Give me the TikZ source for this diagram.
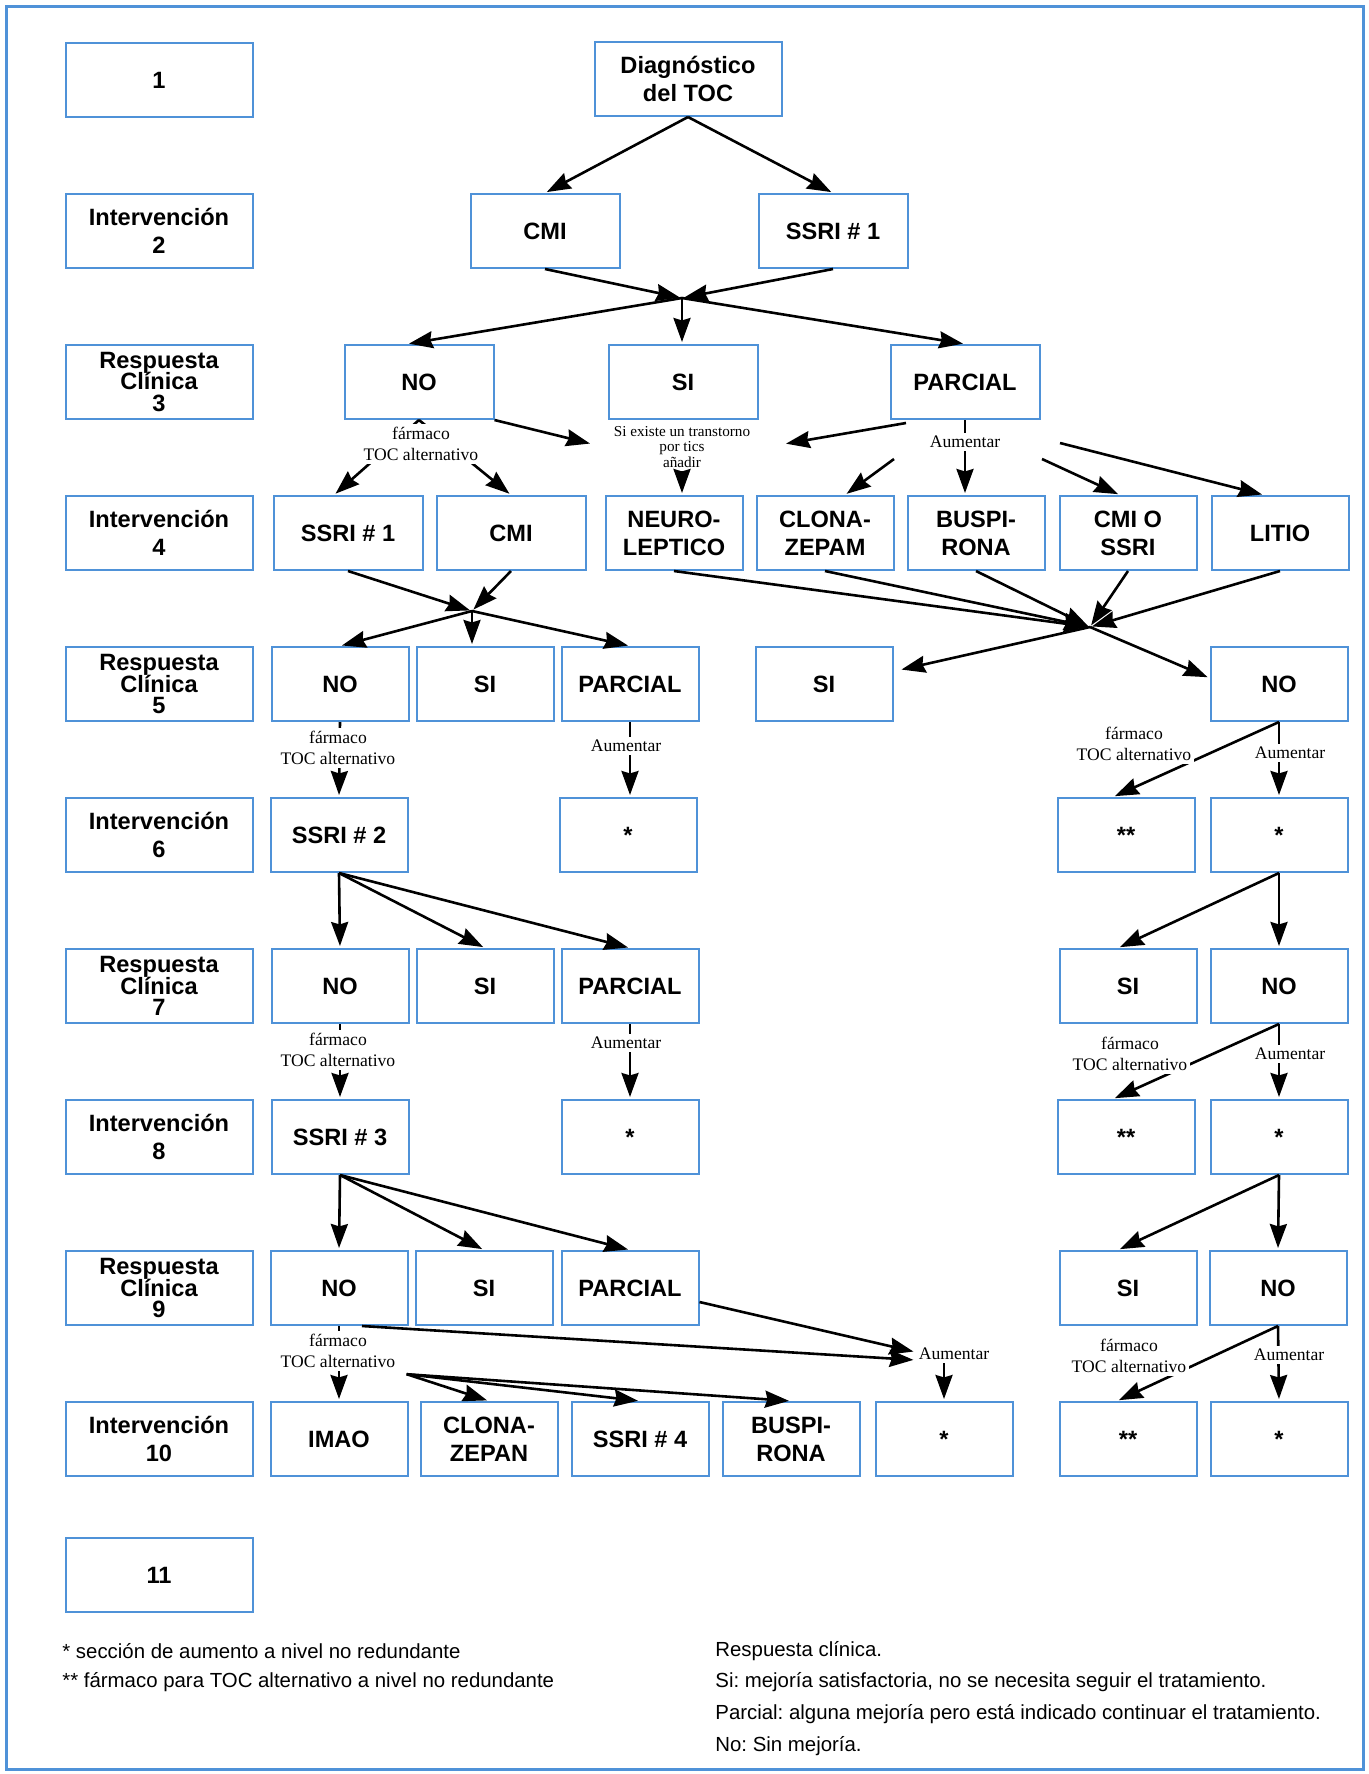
\documentclass[tikz,border=0pt]{standalone}
\usepackage{fontspec}
\setmainfont{Liberation Serif}
\setsansfont{Liberation Sans}
\usepackage{tikz}
\usetikzlibrary{arrows.meta,calc}
\definecolor{boxblue}{RGB}{79,146,216}
\newcommand{\respclin}[1]{Respuesta\\[-3.3pt]Clínica\\[-3.3pt]#1}
\frenchspacing

\begin{document}
\begin{tikzpicture}[x=0.5pt,y=-0.5pt,
    box/.style={draw=boxblue,line width=1pt,fill=white,minimum width=68.5pt,minimum height=37pt,
                inner sep=1pt,align=center,font=\sffamily\bfseries\fontsize{11.8}{14}\selectfont},
    wide/.style={box,minimum width=74.5pt},
    side/.style={box,minimum width=93.5pt},
    lbl/.style={fill=white,inner sep=1.5pt,align=center,font=\fontsize{8.8}{10.5}\selectfont},
    arr/.style={line width=1.3pt,shorten >=1pt,-{Stealth[length=12pt,width=8.5pt,inset=1.2pt]}},
    legend/.style={anchor=west,inner sep=0pt,font=\sffamily\fontsize{10.2}{12}\selectfont}]

    \useasboundingbox (0,0) rectangle (1369,1774);
    \draw[boxblue,line width=1.5pt] (6,6) rectangle (1363,1769);

    % left column
    \foreach \r/\y/\t in {1/80/1, 2/231/Intervención\\2, 3/382/\respclin{3}, 4/533/Intervención\\4,
                          5/684/\respclin{5}, 6/835/Intervención\\6, 7/986/\respclin{7},
                          8/1137/Intervención\\8, 9/1288/\respclin{9}, 10/1439/Intervención\\10, 11/1575/11}
        \node[side] (lab\r) at (159,\y) {\t};

    \node[side] (diag)  at (688,79)  {Diagnóstico\\del TOC};
    \node[wide] (cmi2)  at (545,231) {CMI};
    \node[wide] (ssri2) at (833,231) {SSRI \# 1};

    \node[wide] (no3)  at (419,382) {NO};
    \node[wide] (si3)  at (683,382) {SI};
    \node[wide] (par3) at (965,382) {PARCIAL};

    \node[wide] (ssri4)  at (348,533)  {SSRI \# 1};
    \node[wide] (cmi4)   at (511,533)  {CMI};
    \node[box]  (neuro4) at (674,533)  {NEURO-\\LEPTICO};
    \node[box]  (clona4) at (825,533)  {CLONA-\\ZEPAM};
    \node[box]  (buspi4) at (976,533)  {BUSPI-\\RONA};
    \node[box]  (cmio4)  at (1128,533) {CMI O\\SSRI};
    \node[box]  (litio4) at (1280,533) {LITIO};

    \node[box] (no5)  at (340,684)  {NO};
    \node[box] (si5)  at (485,684)  {SI};
    \node[box] (par5) at (630,684)  {PARCIAL};
    \node[box] (sib5) at (824,684)  {SI};
    \node[box] (nob5) at (1279,684) {NO};

    \node[box] (ssri6) at (339,835)  {SSRI \# 2};
    \node[box] (ast6)  at (628,835)  {*};
    \node[box] (dast6) at (1126,835) {**};
    \node[box] (astb6) at (1279,835) {*};

    \node[box] (no7)  at (340,986)  {NO};
    \node[box] (si7)  at (485,986)  {SI};
    \node[box] (par7) at (630,986)  {PARCIAL};
    \node[box] (sib7) at (1128,986) {SI};
    \node[box] (nob7) at (1279,986) {NO};

    \node[box] (ssri8) at (340,1137)  {SSRI \# 3};
    \node[box] (ast8)  at (630,1137)  {*};
    \node[box] (dast8) at (1126,1137) {**};
    \node[box] (astb8) at (1279,1137) {*};

    \node[box] (no9)  at (339,1288)  {NO};
    \node[box] (si9)  at (484,1288)  {SI};
    \node[box] (par9) at (630,1288)  {PARCIAL};
    \node[box] (sib9) at (1128,1288) {SI};
    \node[box] (nob9) at (1278,1288) {NO};

    \node[box] (imao10)  at (339,1439)  {IMAO};
    \node[box] (clona10) at (489,1439)  {CLONA-\\ZEPAN};
    \node[box] (ssri10)  at (640,1439)  {SSRI \# 4};
    \node[box] (buspi10) at (791,1439)  {BUSPI-\\RONA};
    \node[box] (ast10)   at (944,1439)  {*};
    \node[box] (dast10)  at (1128,1439) {**};
    \node[box] (astb10)  at (1279,1439) {*};

    % 1 -> 3
    \draw[arr] (diag.south) -- (cmi2.north);
    \draw[arr] (diag.south) -- (ssri2.north);
    \coordinate (j2) at (682,298);
    \draw[arr] (cmi2.south) -- (j2);
    \draw[arr] (ssri2.south) -- (j2);
    \draw[arr] (j2) -- ([xshift=-6pt]no3.north);
    \draw[arr] (j2) -- (j2 |- si3.north);
    \draw[arr] (j2) -- (par3.north);

    % 3 -> 4
    \draw[arr] (no3.south) -- ([xshift=-7pt]ssri4.north);
    \draw[arr] (no3.south) -- (cmi4.north);
    \node[lbl] (far3) at (421,444) {fármaco\\TOC alternativo};
    \node[lbl,font=\fontsize{7.6}{7.8}\selectfont] (tics) at (682,447) {Si existe un transtorno\\por tics\\añadir};
    \coordinate (ticl) at (592,444);
    \coordinate (ticr) at (784,444);
    \draw[arr] (no3.south east) -- (ticl);
    \draw[arr] ($(par3.south)+(-59,3)$) -- (ticr);
    \draw[arr] (tics.south) -- (tics.south |- neuro4.north);
    \node[lbl] (aum3) at (965,442) {Aumentar};
    \draw[line width=1.3pt] (par3.south) -- (aum3.north);
    \draw[arr] ($(aum3)+(-71,17)$) -- ([xshift=10pt]clona4.north);
    \draw[arr] (aum3.south) -- (aum3.south |- buspi4.north);
    \draw[arr] ($(aum3)+(77,17)$) -- ([xshift=-4pt]cmio4.north);
    \draw[arr] ($(aum3)+(95,1)$) -- ([xshift=-8pt]litio4.north);

    % 4 -> 5
    \coordinate (j4) at (472,611);
    \draw[arr] (ssri4.south) -- (j4);
    \draw[arr] (cmi4.south) -- (j4);
    \draw[arr] (j4) -- (no5.north);
    \draw[arr] (j4) -- (j4 |- si5.north);
    \draw[arr] (j4) -- (par5.north);
    \coordinate (j4r) at (1090,627);
    \foreach \n in {neuro4,clona4,buspi4,cmio4,litio4}
        \draw[arr] (\n.south) -- (j4r);
    \draw[arr] (j4r) -- ([xshift=3pt,yshift=-12pt]sib5.north east);
    \draw[arr] (j4r) -- ([yshift=-16pt]nob5.north west);

    % 5 -> 6
    \draw[arr] (no5.south) -- (ssri6.north);
    \node[lbl] (far5) at (338,748) {fármaco\\TOC alternativo};
    \draw[arr] (par5.south) -- (par5.south |- ast6.north);
    \node[lbl] (aum5) at (626,746) {Aumentar};
    \draw[arr] (nob5.south) -- ([xshift=-6.5pt]dast6.north);
    \node[lbl] (far5r) at (1134,744) {fármaco\\TOC alternativo};
    \draw[arr] (nob5.south) -- (astb6.north);
    \node[lbl] (aum5r) at (1290,753) {Aumentar};

    % 6 -> 7
    \foreach \n in {no7,si7,par7}
        \draw[arr] (ssri6.south) -- (\n.north);
    \draw[arr] (astb6.south) -- ([xshift=-5pt]sib7.north);
    \draw[arr] (astb6.south) -- (nob7.north);

    % 7 -> 8
    \draw[arr] (no7.south) -- (ssri8.north);
    \node[lbl] (far7) at (338,1050) {fármaco\\TOC alternativo};
    \draw[arr] (par7.south) -- (ast8.north);
    \node[lbl] (aum7) at (626,1043) {Aumentar};
    \draw[arr] (nob7.south) -- ([xshift=-6.5pt]dast8.north);
    \node[lbl] (far7r) at (1130,1054) {fármaco\\TOC alternativo};
    \draw[arr] (nob7.south) -- (astb8.north);
    \node[lbl] (aum7r) at (1290,1054) {Aumentar};

    % 8 -> 9
    \foreach \n in {no9,si9,par9}
        \draw[arr] (ssri8.south) -- (\n.north);
    \draw[arr] (astb8.south) -- ([xshift=-5pt]sib9.north);
    \draw[arr] (astb8.south) -- (nob9.north);

    % 9 -> 10
    \draw[arr] (no9.south) -- (imao10.north);
    \node[lbl] (far9) at (338,1351) {fármaco\\TOC alternativo};
    \foreach \n in {clona10,ssri10,buspi10}
        \draw[arr] ($(far9.south east)+(8,3)$) -- (\n.north);
    \node[lbl] (aum9) at (954,1354) {Aumentar};
    \draw[arr] ($(no9.south)+(23,0)$) -- ([yshift=-3pt]aum9.west);
    \draw[arr] ([yshift=-7pt]par9.east) -- ([yshift=1pt]aum9.west);
    \draw[arr] (aum9.south -| ast10.north) -- (ast10.north);
    \draw[arr] (nob9.south) -- ([xshift=-5.5pt]dast10.north);
    \node[lbl] (far9r) at (1129,1356) {fármaco\\TOC alternativo};
    \draw[arr] (nob9.south) -- (astb10.north);
    \node[lbl] (aum9r) at (1289,1355) {Aumentar};

    % legend
    \node[legend] (ast)  at (62,1651)  {* sección de aumento a nivel no redundante};
    \node[legend] (dast) at (62,1682)  {** fármaco para TOC alternativo a nivel no redundante};
    \node[legend] (rc)   at (715,1651) {Respuesta clínica.};
    \node[legend] (rsi)  at (715,1682) {Si: mejoría satisfactoria, no se necesita seguir el tratamiento.};
    \node[legend] (rpar) at (715,1714) {Parcial: alguna mejoría pero está indicado continuar el tratamiento.};
    \node[legend] (rno)  at (715,1746) {No: Sin mejoría.};
\end{tikzpicture}
\end{document}
